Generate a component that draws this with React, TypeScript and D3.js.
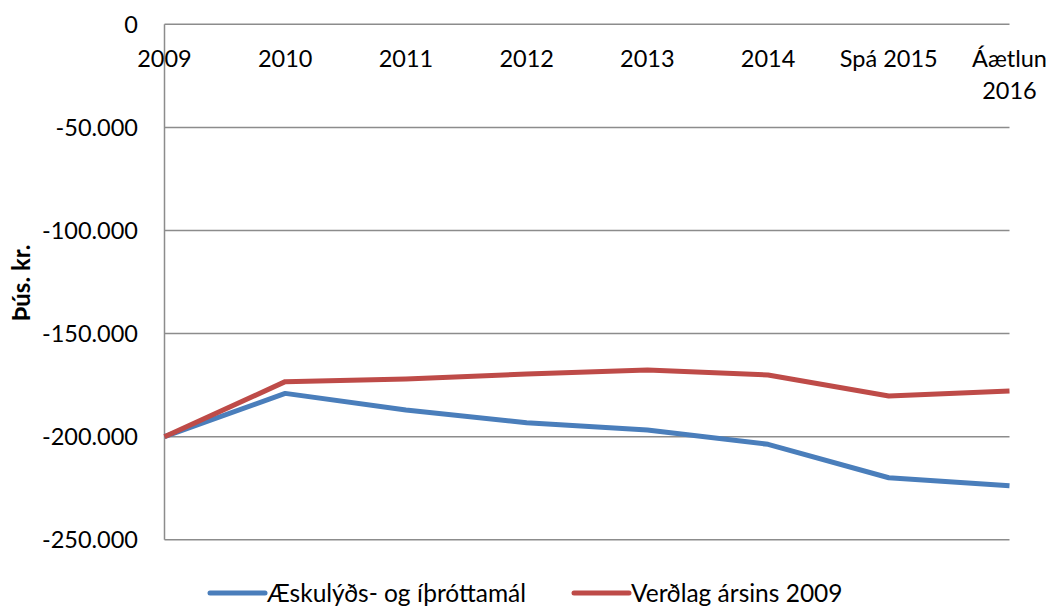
import React from "react";
import * as d3 from "d3";

const categories = ["2009", "2010", "2011", "2012", "2013", "2014", "Spá 2015", "Áætlun 2016"];
const seriesNames = ["Æskulýðs- og íþróttamál", "Verðlag ársins 2009"];
const seriesA = [-200000, -179000, -187100, -193200, -196800, -203700, -219900, -223800];
const seriesB = [-200000, -173300, -172000, -169600, -167600, -170100, -180300, -177800];
const yTicks = [0, -50000, -100000, -150000, -200000, -250000];
const colors = ["#4a7ebb", "#be4b48"];

const W = 1050;
const H = 606;
const FONT = "Lato, 'Open Sans', sans-serif";

const locale = d3.formatLocale({ decimal: ",", thousands: ".", grouping: [3], currency: ["", ""], minus: "-" });
const fmt = locale.format(",");

export default function App() {
  const x = d3.scalePoint<string>().domain(categories).range([164.5, 1009.5]).padding(0);
  const y = d3.scaleLinear().domain([-250000, 0]).range([539.8, 24.3]);
  const line = d3
    .line<number>()
    .x((_, i) => x(categories[i]) as number)
    .y((d) => y(d));
  const series = [seriesA, seriesB];

  const wrap = (s: string) => (s.length > 9 ? s.split(" ") : [s]);
  const legendX = [210, 574];

  return (
    <svg width={W} height={H} style={{ position: "absolute", left: 0, top: 0, background: "#fff" }} fontFamily={FONT}>
      {yTicks.map((t) => (
        <g key={t}>
          <line x1={164.5} x2={1009.5} y1={y(t)} y2={y(t)} stroke="#8c8c8c" strokeWidth={1.5} />
          <text x={138} y={y(t)} dy="0.35em" textAnchor="end" fontSize={23.5} fill="#000">
            {fmt(t)}
          </text>
        </g>
      ))}
      <line x1={164.5} x2={164.5} y1={y(0)} y2={y(-250000)} stroke="#8c8c8c" strokeWidth={1.5} />
      {categories.map((c) => {
        const parts = wrap(c);
        return (
          <text key={c} x={x(c)} y={59} textAnchor="middle" fontSize={23.5} fill="#000">
            {parts.map((p, i) => (
              <tspan key={i} x={x(c)} dy={i === 0 ? "0.35em" : "1.35em"}>
                {p}
              </tspan>
            ))}
          </text>
        );
      })}
      <text
        transform={`translate(22,283) rotate(-90)`}
        textAnchor="middle"
        dy="0.35em"
        fontSize={24}
        fontWeight="bold"
        fill="#000"
      >
        Þús. kr.
      </text>
      {series.map((s, i) => (
        <path key={i} d={line(s) || ""} fill="none" stroke={colors[i]} strokeWidth={5} strokeLinejoin="round" />
      ))}
      {seriesNames.map((n, i) => {
        const lx = legendX[i];
        return (
          <g key={n}>
            <line x1={lx} x2={lx + 55} y1={593} y2={593} stroke={colors[i]} strokeWidth={5} strokeLinecap="round" />
            <text x={lx + 57} y={593} dy="0.35em" fontSize={24.5} fill="#000">
              {n}
            </text>
          </g>
        );
      })}
    </svg>
  );
}
